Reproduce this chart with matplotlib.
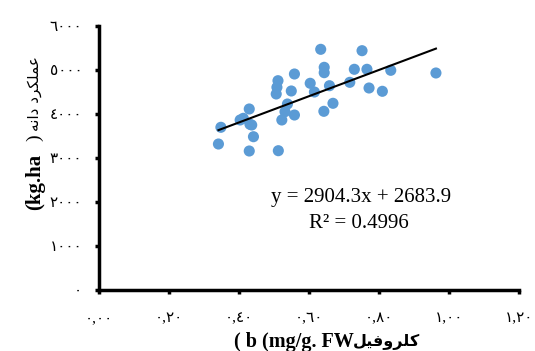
import numpy as np
import matplotlib
matplotlib.use("Agg")
import matplotlib.pyplot as plt

# chlorophyll b (mg/g FW)
chl_b = [0.348, 0.341, 0.429, 0.512, 0.441, 0.436, 0.403, 0.429, 0.412, 0.431,
         0.522, 0.558, 0.538, 0.531, 0.506, 0.508, 0.511, 0.549, 0.558, 0.603,
         0.615, 0.633, 0.643, 0.643, 0.658, 0.668, 0.642, 0.716, 0.729, 0.751,
         0.765, 0.771, 0.809, 0.833, 0.962]
# grain yield (kg/ha)
yield_kg = [3698, 3318, 3159, 3166, 3484, 3750, 3864, 4114, 3902, 3766,
            3864, 3977, 4227, 4052, 4455, 4607, 4757, 4523, 4909, 4698,
            4500, 5470, 5061, 4939, 4643, 4243, 4061, 4720, 5016, 5439,
            5016, 4591, 4516, 4993, 4932]

x_ticks = [0.0, 0.2, 0.4, 0.6, 0.8, 1.0, 1.2]
x_ticklabels = ["٠,٠٠", "٠,٢٠", "٠,٤٠", "٠,٦٠", "٠,٨٠", "١,٠٠", "١,٢٠"]
y_ticks = [0, 1000, 2000, 3000, 4000, 5000, 6000]
y_ticklabels = ["٠", "١٠٠٠", "٢٠٠٠", "٣٠٠٠", "٤٠٠٠", "٥٠٠٠", "٦٠٠٠"]

eq_text = "y = 2904.3x + 2683.9"
r2_text = "R² = 0.4996"

# Arabic shown in visual (shaped, left-to-right) order
ylabel_ar = "\uFEEA\uFEE7\uFE8D\uFEA9 \uFEA9\uFEAE\uFB91\uFEE0\uFEE4\uFECB"
xlabel_ar = "\uFEDE\uFBFF\uFED3\uFEED\uFEAE\uFEE0\uFB90"

fig = plt.figure(figsize=(5.35, 3.51), dpi=100)
ax = fig.add_axes([99/535, 1-290/351, (519.3-99)/535, (290-26)/351])

ax.scatter(chl_b, yield_kg, s=64, color="#5B9BD5", edgecolors="none", zorder=3)

coef = np.polyfit(chl_b, yield_kg, 1)
xl = np.array([min(chl_b), max(chl_b)])
ax.plot(xl, np.polyval(coef, xl), color="black", lw=1.5, zorder=4)

ax.set_xlim(0, 1.2)
ax.set_ylim(0, 6000)
ax.set_xticks(x_ticks)
ax.set_xticklabels(x_ticklabels)
ax.set_yticks(y_ticks)
ax.set_yticklabels(y_ticklabels)

for s in ["top", "right"]:
    ax.spines[s].set_visible(False)
for s in ["left", "bottom"]:
    ax.spines[s].set_linewidth(2.5)
    ax.spines[s].set_color("black")

tick_font = ["Liberation Serif", "DejaVu Sans"]
ax.tick_params(axis="both", direction="out", length=3, width=2.5, colors="black")
ax.tick_params(axis="x", pad=13)
ax.tick_params(axis="y", pad=9)
for lab in ax.get_xticklabels() + ax.get_yticklabels():
    lab.set_family(tick_font)
    lab.set_fontsize(11)

fig.text(361/535, 1-197/351, eq_text, fontsize=15, family="Liberation Serif",
         ha="center", va="center")
fig.text(359/535, 1-224/351, r2_text, fontsize=15, family="Liberation Serif",
         ha="center", va="center")

# y label: bold "(kg.ha" + regular ")" + Arabic
fig.text(35/535, 1-182/351, "(kg.ha", rotation=90, fontsize=15, fontweight="bold",
         family="Liberation Serif", ha="center", va="center")
fig.text(35/535, 1-138/351, ")", rotation=90, fontsize=14,
         family="Liberation Serif", ha="center", va="center")
fig.text(35/535, 1-94/351, ylabel_ar, rotation=90, fontsize=11,
         family=["DejaVu Sans"], ha="center", va="center")

# x label
fig.text(234/535, 1-342/351, "( b (mg/g. FW", fontsize=14.5, fontweight="bold",
         family="Liberation Serif", ha="left", va="center")
fig.text(420/535, 1-342/351, xlabel_ar, fontsize=11.5, fontweight="bold",
         family=["DejaVu Sans"], ha="right", va="center")

fig.savefig("out.png", dpi=100)
